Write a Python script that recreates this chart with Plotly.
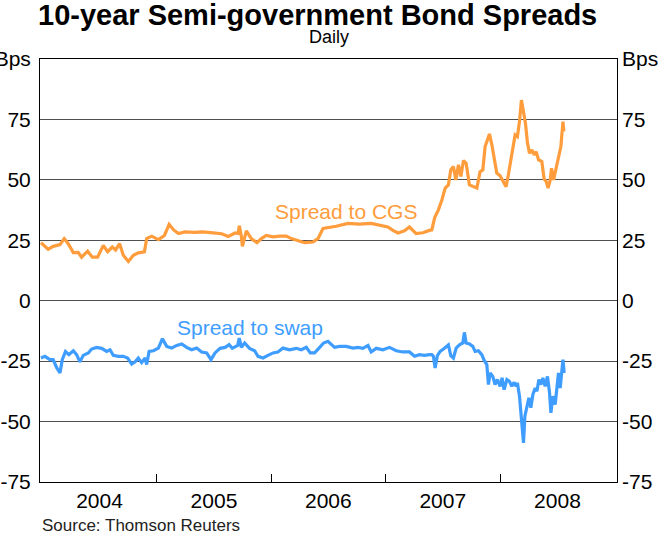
import plotly.graph_objects as go
from datetime import datetime, timedelta

# ---- Data ----
# time expressed as decimal years
cgs_t = [2003.989, 2004.052, 2004.096, 2004.155, 2004.192, 2004.227, 2004.271, 2004.314, 2004.343,
         2004.396, 2004.437, 2004.483, 2004.533, 2004.570, 2004.611, 2004.640, 2004.675, 2004.707,
         2004.751, 2004.795, 2004.838, 2004.891, 2004.911, 2004.955, 2005.013, 2005.066, 2005.107,
         2005.144, 2005.188, 2005.246, 2005.334, 2005.391, 2005.450, 2005.508, 2005.566, 2005.624,
         2005.683, 2005.709, 2005.721, 2005.738, 2005.747, 2005.782, 2005.825, 2005.875, 2005.913,
         2005.956, 2006.015, 2006.072, 2006.131, 2006.175, 2006.233, 2006.291, 2006.364, 2006.408,
         2006.452, 2006.509, 2006.568, 2006.670, 2006.771, 2006.873, 2006.946, 2007.019, 2007.063,
         2007.107, 2007.164, 2007.208, 2007.266, 2007.325, 2007.383, 2007.403, 2007.429, 2007.461,
         2007.491, 2007.520, 2007.548, 2007.569, 2007.592, 2007.613, 2007.636, 2007.657, 2007.680,
         2007.703, 2007.732, 2007.767, 2007.797, 2007.825, 2007.849, 2007.869, 2007.889, 2007.907,
         2007.928, 2007.948, 2007.971, 2008.000, 2008.024, 2008.052, 2008.072, 2008.093, 2008.111,
         2008.131, 2008.151, 2008.169, 2008.186, 2008.204, 2008.221, 2008.239, 2008.256, 2008.277,
         2008.297, 2008.314, 2008.335, 2008.364, 2008.384, 2008.402, 2008.419, 2008.437, 2008.448,
         2008.466, 2008.489, 2008.509, 2008.530, 2008.548, 2008.556]
cgs_v = [24.0, 21.3, 22.5, 23.2, 25.7, 23.6, 19.9, 20.0, 18.0,
         20.5, 18.0, 18.0, 22.9, 20.3, 22.2, 21.0, 23.6, 18.8,
         16.2, 18.8, 19.8, 20.2, 25.7, 26.7, 25.3, 27.0, 31.6,
         29.4, 27.8, 28.5, 28.3, 28.5, 28.3, 28.0, 27.7, 26.6,
         28.0, 27.8, 31.0, 26.7, 22.5, 28.9, 25.7, 24.0, 25.7,
         27.0, 26.4, 26.7, 26.7, 25.7, 25.0, 24.0, 24.3, 25.7,
         29.9, 30.3, 30.8, 32.0, 31.7, 32.0, 31.2, 30.5, 29.1,
         28.0, 28.9, 30.5, 27.8, 28.1, 29.1, 29.3, 34.5, 37.6,
         41.7, 46.6, 47.9, 54.1, 55.5, 50.0, 56.2, 51.4, 58.0,
         56.9, 47.9, 47.0, 46.6, 53.4, 54.1, 63.8, 66.5, 69.0,
         64.5, 58.3, 52.8, 51.7, 49.3, 47.2, 52.1, 58.3, 63.8,
         68.6, 67.9, 74.1, 83.0, 77.6, 73.4, 65.2, 61.0, 62.4,
         60.3, 61.7, 58.3, 57.6, 50.3, 49.3, 46.6, 50.0, 54.8,
         50.0, 54.8, 58.3, 63.8, 74.1, 70.0]

swap_t = [2003.989, 2004.024, 2004.067, 2004.096, 2004.125, 2004.155, 2004.175, 2004.203, 2004.233,
          2004.271, 2004.300, 2004.329, 2004.358, 2004.402, 2004.431, 2004.474, 2004.518, 2004.562,
          2004.591, 2004.620, 2004.664, 2004.707, 2004.745, 2004.780, 2004.810, 2004.838, 2004.867,
          2004.897, 2004.911, 2004.932, 2004.969, 2005.013, 2005.048, 2005.086, 2005.129, 2005.173,
          2005.217, 2005.260, 2005.304, 2005.348, 2005.391, 2005.435, 2005.473, 2005.508, 2005.552,
          2005.596, 2005.631, 2005.659, 2005.706, 2005.720, 2005.738, 2005.767, 2005.810, 2005.854,
          2005.884, 2005.928, 2005.971, 2006.015, 2006.058, 2006.102, 2006.160, 2006.218, 2006.262,
          2006.306, 2006.341, 2006.378, 2006.417, 2006.457, 2006.495, 2006.524, 2006.553, 2006.597,
          2006.655, 2006.714, 2006.757, 2006.801, 2006.845, 2006.873, 2006.917, 2006.976, 2007.033,
          2007.092, 2007.150, 2007.208, 2007.252, 2007.295, 2007.339, 2007.383, 2007.403, 2007.417,
          2007.432, 2007.452, 2007.476, 2007.505, 2007.534, 2007.548, 2007.569, 2007.592, 2007.616,
          2007.645, 2007.674, 2007.688, 2007.703, 2007.732, 2007.761, 2007.782, 2007.810, 2007.840,
          2007.860, 2007.884, 2007.898, 2007.913, 2007.936, 2007.956, 2007.976, 2008.000, 2008.017,
          2008.035, 2008.059, 2008.081, 2008.102, 2008.122, 2008.140, 2008.151, 2008.169, 2008.190,
          2008.204, 2008.216, 2008.234, 2008.251, 2008.268, 2008.286, 2008.306, 2008.321, 2008.338,
          2008.356, 2008.373, 2008.393, 2008.413, 2008.431, 2008.443, 2008.460, 2008.480, 2008.495,
          2008.509, 2008.524, 2008.539, 2008.548, 2008.559]
swap_v = [-23.7, -23.0, -24.4, -24.4, -27.6, -29.9, -24.4, -21.0, -22.3,
          -20.7, -22.3, -25.3, -22.6, -21.6, -20.0, -19.3, -19.7, -21.0,
          -20.3, -22.6, -23.0, -23.0, -23.7, -26.2, -25.3, -23.7, -25.6,
          -23.7, -26.4, -21.0, -20.7, -19.6, -15.7, -18.9, -19.6, -18.5,
          -17.9, -19.3, -20.3, -19.6, -21.2, -21.6, -24.4, -21.6, -19.7,
          -19.3, -18.2, -19.7, -18.5, -15.5, -19.3, -17.5, -19.7, -20.7,
          -23.0, -23.7, -22.6, -21.6, -21.2, -19.6, -20.3, -19.7, -20.3,
          -19.3, -21.6, -21.6, -19.6, -17.5, -16.8, -17.9, -19.3, -18.9,
          -18.9, -19.6, -19.3, -19.7, -18.5, -21.2, -19.7, -20.3, -19.3,
          -20.7, -21.2, -21.2, -23.0, -22.3, -22.6, -22.3, -22.3, -23.0,
          -27.8, -22.7, -21.0, -20.0, -18.9, -18.3, -22.7, -23.7, -19.6,
          -18.2, -17.5, -13.1, -17.5, -17.9, -18.9, -21.0, -20.7, -22.3,
          -24.6, -26.4, -34.7, -29.9, -31.3, -34.7, -32.6, -35.4, -31.9,
          -36.8, -32.6, -33.3, -35.4, -33.8, -35.4, -34.0, -39.5, -49.2,
          -58.8, -47.8, -43.7, -40.2, -44.3, -38.8, -36.1, -37.5, -32.6,
          -34.7, -31.9, -35.4, -31.3, -38.1, -46.4, -39.5, -43.0, -34.7,
          -29.9, -36.1, -28.5, -24.4, -29.9]

years = [2004, 2005, 2006, 2007, 2008]
y_ticks = [-75, -50, -25, 0, 25, 50, 75, 100]
y_ticktext = ["-75", "-50", "-25", "0", "25", "50", "75", "Bps"]


def to_date(t):
    y = int(t)
    start = datetime(y, 1, 1)
    ndays = (datetime(y + 1, 1, 1) - start).days
    return start + timedelta(days=(t - y) * ndays)


cgs_x = [to_date(t) for t in cgs_t]
swap_x = [to_date(t) for t in swap_t]

ORANGE = "#FF9C3C"
BLUE = "#3E9DFF"
FONT = "Liberation Sans, Arial, sans-serif"

fig = go.Figure()
fig.add_trace(go.Scatter(x=cgs_x, y=cgs_v, mode="lines", line=dict(color=ORANGE, width=3.2),
                         name="Spread to CGS", showlegend=False, yaxis="y"))
fig.add_trace(go.Scatter(x=swap_x, y=swap_v, mode="lines", line=dict(color=BLUE, width=3.2),
                         name="Spread to swap", showlegend=False, yaxis="y2"))

mid_year = [datetime(y, 7, 2) for y in years]
year_starts = [datetime(y, 1, 1) for y in years[1:]]

fig.update_layout(
    width=658, height=534,
    margin=dict(l=40, r=41, t=59, b=52, autoexpand=False),
    paper_bgcolor="white", plot_bgcolor="white",
    font=dict(family=FONT, size=21, color="black"),
    showlegend=False,
    xaxis=dict(
        range=[datetime(2003, 12, 25), datetime(2009, 1, 8)],
        tickmode="array", tickvals=mid_year, ticktext=[str(y) for y in years],
        ticks="", showgrid=False, zeroline=False, automargin=False,
        showline=True, linecolor="black", linewidth=1, mirror=True,
        tickfont=dict(size=21), ticklabelstandoff=0,
        minor=dict(tickmode="array", tickvals=year_starts, ticks="inside",
                   ticklen=8, tickcolor="black", tickwidth=1, showgrid=False),
    ),
    yaxis=dict(
        range=[-75, 100], tickmode="array", tickvals=y_ticks, ticktext=y_ticktext,
        ticks="", showgrid=True, gridcolor="#505050", gridwidth=1, automargin=False,
        zeroline=False, showline=True, linecolor="black", linewidth=1, mirror=True,
        tickfont=dict(size=21), ticklabelstandoff=4,
    ),
    yaxis2=dict(
        range=[-75, 100], tickmode="array", tickvals=y_ticks, ticktext=y_ticktext,
        overlaying="y", side="right", ticks="", showgrid=False, zeroline=False,
        automargin=False, showline=False, tickfont=dict(size=21), ticklabelstandoff=4,
    ),
)

annotations = [
    dict(text="<b>10-year Semi-government Bond Spreads</b>", x=0.481, y=1.105,
         xref="paper", yref="paper", xanchor="center", yanchor="middle",
         showarrow=False, font=dict(size=29, family=FONT, color="black")),
    dict(text="Daily", x=0.5, y=1.052, xref="paper", yref="paper",
         xanchor="center", yanchor="middle", showarrow=False,
         font=dict(size=18, family=FONT, color="black")),
    dict(text="Source: Thomson Reuters", x=0.0, y=-0.104, xref="paper", yref="paper",
         xanchor="left", yanchor="middle", showarrow=False,
         font=dict(size=17, family=FONT, color="#222222")),
    dict(text="Spread to CGS", x=to_date(2006.655), y=36.8, xref="x", yref="y",
         xanchor="center", yanchor="middle", showarrow=False,
         font=dict(size=21, family=FONT, color=ORANGE)),
    dict(text="Spread to swap", x=to_date(2005.817), y=-11.2, xref="x", yref="y",
         xanchor="center", yanchor="middle", showarrow=False,
         font=dict(size=21, family=FONT, color=BLUE)),
]
fig.update_layout(annotations=annotations)

fig.write_html("out.html", config={"displayModeBar": False},
               post_script="document.body.style.margin='0';document.body.style.padding='0';")
